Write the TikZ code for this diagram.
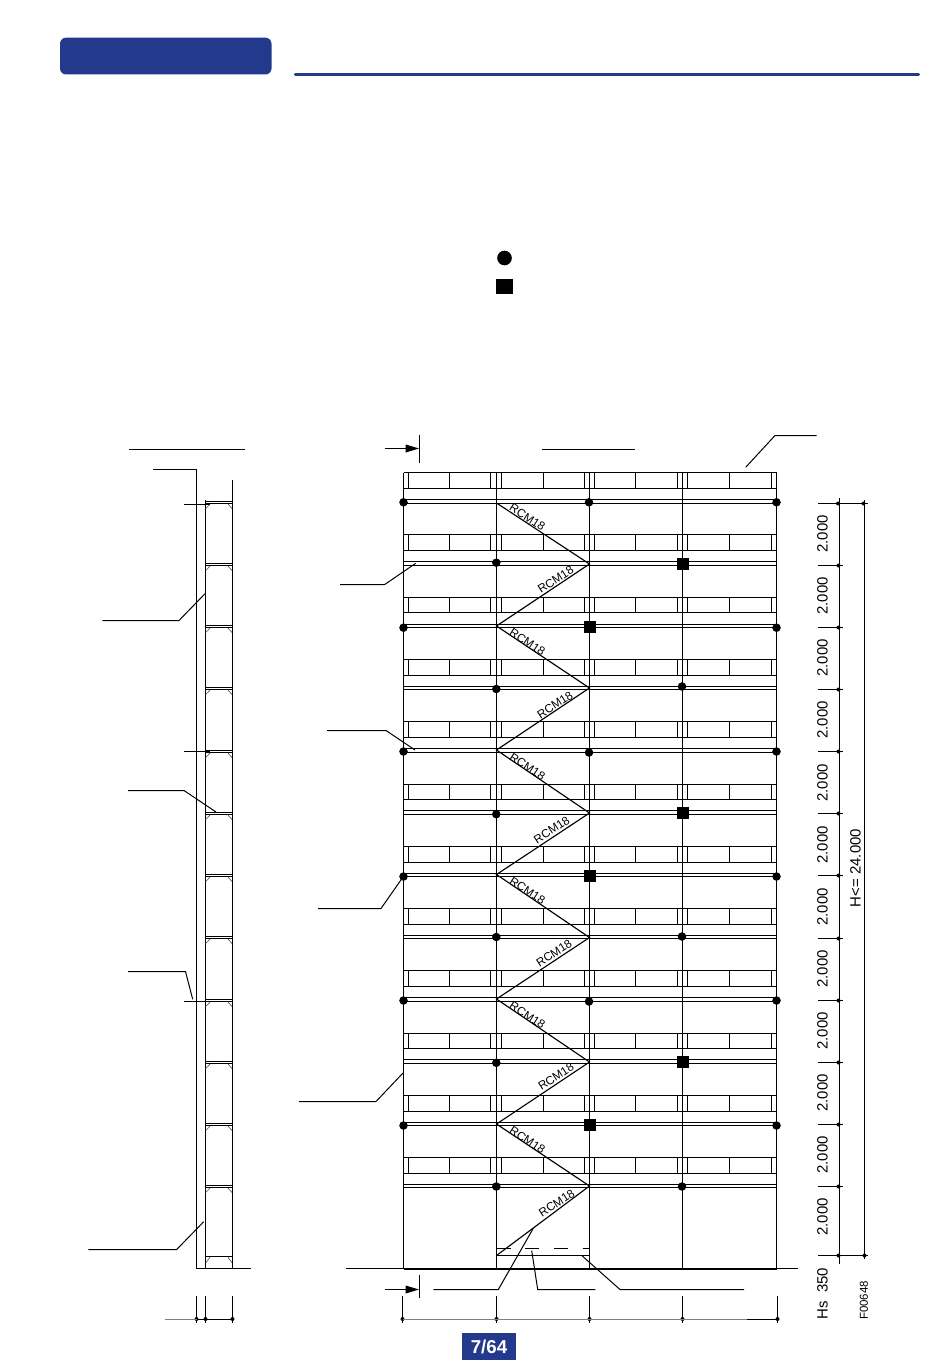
\documentclass[tikz,border=0pt]{standalone}
\usepackage{fontspec}
\setmainfont{Liberation Sans}
\usetikzlibrary{arrows.meta}
\definecolor{hdblue}{HTML}{233A8C}
\tikzset{
  ln/.style={line width=0.85pt,black},
  thin ln/.style={line width=0.8pt,black},
  hair/.style={line width=0.45pt,black!70},
  ldr/.style={line width=0.75pt,black,line join=miter},
  graydim/.style={line width=0.8pt,black!50},
  dot/.style={circle,fill=black,inner sep=0pt,minimum size=6.4pt},
  sq/.style={rectangle,fill=black,inner sep=0pt,minimum size=9pt},
  tk/.style={circle,fill=black,inner sep=0pt,minimum size=3pt},
  rcm/.style={font=\fontsize{8.8pt}{10pt}\selectfont,inner sep=0pt},
  dimt/.style={font=\fontsize{11.2pt}{13pt}\selectfont,rotate=90,inner sep=0pt},
}
\begin{document}
\begin{tikzpicture}[x=0.75pt,y=-0.75pt]
\useasboundingbox (0,0) rectangle (950,1362);
% header
\fill[hdblue,rounded corners=4.5pt] (60,37.7) rectangle (271.5,74.5);
\draw[hdblue,line width=2.4pt,line cap=round] (295.5,74.3) -- (918.5,74.3);
% legend
\node[circle,fill=black,inner sep=0pt,minimum size=11pt] (legc) at (504.5,258) {};
\node[rectangle,fill=black,inner sep=0pt,minimum width=12.6pt,minimum height=11.6pt] (legs) at (504.5,286.5) {};
% page tag
\fill[hdblue] (462.3,1333.3) rectangle (515.7,1360);
\node[text=white,font=\bfseries\fontsize{14pt}{16pt}\selectfont,inner sep=0pt] (page) at (489,1347) {7/64};

% ---------- side section
\draw[ln] (153,469.5) -- (196.5,469.5) -- (196.5,1268.5);
\draw[ln] (205.5,500) -- (205.5,1268.5);
\draw[ln] (232.5,480) -- (232.5,1268.5);
\draw[ln] (196.5,1268.5) -- (250.7,1268.5);
\foreach \k in {0,...,11}{
  \pgfmathsetmacro\a{floor(501+62.25*\k)+0.5}
  \pgfmathsetmacro\b{floor(503.2+62.25*\k)+0.5}
  \draw[thin ln] (205.5,\a) -- (232.5,\a);
  \draw[thin ln] (205.5,\b) -- (232.5,\b);
  \draw[hair] (205.6,\b+5.2) -- (210,\b+0.6);
  \draw[hair] (232.2,\b+5.2) -- (228,\b+0.6);
}
\draw[thin ln] (205.5,1256.5) -- (232.5,1256.5);
\draw[hair] (205.6,1263) -- (210,1257.3);
\draw[hair] (232.2,1263) -- (228,1257.3);
% section leaders
\draw[ldr] (129,449.5) -- (245,449.5);
\draw[ldr] (184,504.5) -- (210,504.5);
\draw[ldr] (184,751.5) -- (210,751.5);
\draw[ldr] (184,1001.5) -- (210,1001.5);
\draw[ldr] (102.3,620.5) -- (179,620.5) -- (205.7,593);
\draw[ldr] (128,790.5) -- (184,790.5) -- (216,812);
\draw[ldr] (128,971.5) -- (185.5,971.5) -- (192.7,999.3);
\draw[ldr] (88.3,1249.5) -- (176.7,1249.5) -- (203.7,1221.7);
% section bottom dim
\foreach \x in {196.5,205.5,232.5}{
  \draw[thin ln] (\x,1296) -- (\x,1323);
  \node[tk] at (\x,1319) {};
}
\draw[graydim] (165,1319.5) -- (196.5,1319.5);
\draw[thin ln] (196.5,1319.5) -- (232.5,1319.5);

% ---------- elevation
\foreach \k in {0,...,11}{
  \pgfmathsetmacro\t{floor(472.7+62.27*\k)+0.5}
  \pgfmathsetmacro\u{floor(488.4+62.27*\k)+0.5}
  \draw[ln] (403.5,\t) -- (776.5,\t);
  \draw[ln] (403.5,\u) -- (776.5,\u);
  \foreach \x in {408.5,449.5,490.5,501.5,543.5,584.5,594.5,635.5,677.5,687.5,729.5,771.5}{
    \draw[thin ln] (\x,\t) -- (\x,\u);
  }
  \pgfmathsetmacro\a{floor(499.7+62.25*\k)+0.5}
  \pgfmathsetmacro\b{floor(503+62.25*\k)+0.5}
  \draw[ln] (403.5,\a) -- (776.5,\a);
  \draw[ln] (403.5,\b) -- (776.5,\b);
}
\foreach \x in {403.5,496.5,589.5,682.5,776.5}{
  \draw[ln] (\x,472.5) -- (\x,1268.5);
}
% ground
\draw[line width=1.5pt] (403.5,1268.7) -- (776.5,1268.7);
\draw[ln] (346,1268.5) -- (403.5,1268.5);
\draw[ln] (776.5,1268.5) -- (798,1268.5);
\draw[ln] (496.5,1255.5) -- (589.5,1255.5);
\draw[ln,dash pattern=on 10.5pt off 11pt] (496.5,1248.5) -- (589.5,1248.5);
% diagonals
\draw[ln] (496.5,503) -- (589.5,564) -- (496.5,626) -- (589.5,688) -- (496.5,750)
  -- (589.5,813) -- (496.5,874.5) -- (589.5,937.5) -- (496.5,999) -- (589.5,1062)
  -- (496.5,1124) -- (589.5,1186) -- (496.5,1255.5);
% diagonal labels
\node[rcm,rotate=-33] (r1) at (527.4,517.3) {RCM18};
\node[rcm,rotate=33] (r2) at (555.7,579.7) {RCM18};
\node[rcm,rotate=-33] (r3) at (527.4,642) {RCM18};
\node[rcm,rotate=33] (r4) at (555,705) {RCM18};
\node[rcm,rotate=-33] (r5) at (527.4,766.5) {RCM18};
\node[rcm,rotate=33] (r6) at (551.7,830) {RCM18};
\node[rcm,rotate=-33] (r7) at (527.4,890.7) {RCM18};
\node[rcm,rotate=33] (r8) at (554,953.3) {RCM18};
\node[rcm,rotate=-33] (r9) at (527.4,1015.3) {RCM18};
\node[rcm,rotate=33] (r10) at (556,1076.7) {RCM18};
\node[rcm,rotate=-33] (r11) at (527.4,1140) {RCM18};
\node[rcm,rotate=33] (r12) at (556.7,1203.3) {RCM18};
% anchors
\foreach \x/\y in {403.5/502.3,589/502.3,776.5/502.3,
  496.3/562.7,
  403.5/627.7,776.5/627.7,
  496.3/689,682/686.5,
  403.5/751.5,589/752.5,776.5/751.5,
  496.3/814.2,
  403.5/876.5,776.5/876.5,
  496.3/937,682/936.5,
  403.5/1000.5,589/1001.5,776.5/1000.5,
  496.3/1062.8,
  403.5/1125.5,776.5/1125.5,
  496.3/1186.5,682/1186.5}{
  \node[dot] at (\x,\y) {};
}
\foreach \x/\y in {682.5/563.5,589.5/627,682.5/812.5,589.5/876,682.5/1061.5,589.5/1125}{
  \node[sq] at (\x,\y) {};
}
% section marks
\draw[ldr] (384.7,448.5) -- (406,448.5);
\fill (419,448.5) -- (405.7,444.5) -- (405.7,452.5) -- cycle;
\draw[ln] (419.5,435.3) -- (419.5,462.7);
\draw[ldr] (384.7,1289.5) -- (406,1289.5);
\fill (419,1289.5) -- (405.7,1285.5) -- (405.7,1293.5) -- cycle;
\draw[ln] (419.5,1275.3) -- (419.5,1298.3);
% elevation leaders
\draw[ldr] (542,449.5) -- (635,449.5);
\draw[ldr] (745.7,467.3) -- (775,435.5) -- (816.7,435.5);
\draw[ldr] (340,584.5) -- (384.7,584.5) -- (415.7,563.3);
\draw[ldr] (327,730.5) -- (386,730.5) -- (415,750);
\draw[ldr] (318,908.5) -- (381,908.5) -- (403,877);
\draw[ldr] (299,1101.5) -- (376,1101.5) -- (403,1073);
\draw[ldr] (433.3,1289.5) -- (498.3,1289.5) -- (533.3,1228.3);
\draw[ldr] (595.3,1289.5) -- (537.7,1289.5) -- (531.7,1250.7);
\draw[ldr] (744,1289.5) -- (620,1289.5) -- (582.3,1256);
% bottom dim
\foreach \x in {402.5,496.5,589.5,682.5,777.5}{
  \draw[thin ln] (\x,1296) -- (\x,1322.5);
  \node[tk] at (\x,1319) {};
}
\draw[graydim] (402.5,1319.5) -- (747,1319.5);
\draw[thin ln] (747,1319.5) -- (777.5,1319.5);
% right dims
\draw[ln] (839.5,498) -- (839.5,1264);
\draw[ln] (864.5,500) -- (864.5,1259);
\draw[ln] (818,503.5) -- (868,503.5);
\draw[ln] (818,1255.5) -- (868,1255.5);
\node[tk] at (838,503.5) {};
\node[tk] at (863.5,503.5) {};
\node[tk] at (838.5,1255.5) {};
\node[tk] at (864.5,1255.5) {};
\foreach \y in {565.5,627.5,689.5,751.5,813.5,875.5,938.5,1000.5,1062.5,1124.5,1186.5}{
  \draw[thin ln] (818,\y) -- (842.5,\y);
  \node[tk] at (838.5,\y) {};
}
\foreach \y in {534,596,658,720,783,845,907,969,1031,1093,1155,1217}{
  \node[dimt] at (822.5,\y) {2.000};
}
\node[dimt] (htotal) at (855.5,868) {H<= 24.000};
\node[dimt] (hs) at (822.5,1293.5) {Hs\ \ 350};
\node[font=\fontsize{8.6pt}{10pt}\selectfont,rotate=90,inner sep=0pt] (fcode) at (864,1300.5) {F00648};
\end{tikzpicture}
\end{document}
